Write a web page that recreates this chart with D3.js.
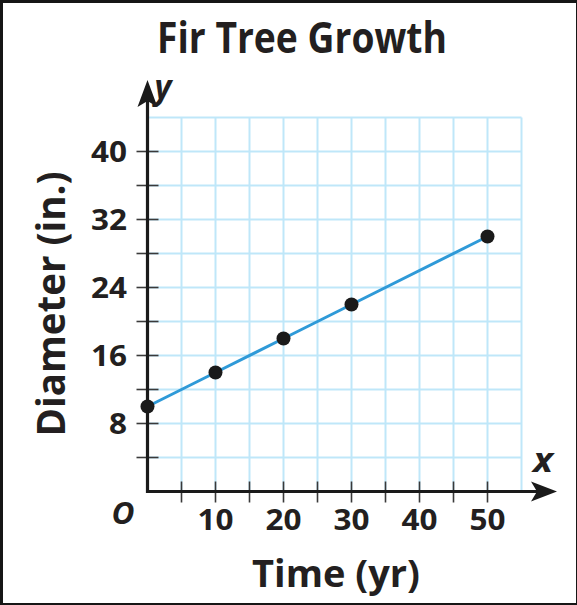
<!DOCTYPE html>
<html><head><meta charset="utf-8">
<script src="https://cdn.jsdelivr.net/npm/d3@7"></script>
<style>
html,body{margin:0;padding:0;background:#161616;}
svg{display:block;}
</style></head>
<body>
<script>
const title = "Fir Tree Growth";
const xLabel = "Time (yr)";
const yLabel = "Diameter (in.)";
const years = [0, 10, 20, 30, 50];
const diameters = [10, 14, 18, 22, 30];
const xTickLabels = [10, 20, 30, 40, 50];
const yTickLabels = [8, 16, 24, 32, 40];
const xMinorTicks = [5, 10, 15, 20, 25, 30, 35, 40, 45, 50];
const yMinorTicks = [4, 8, 12, 16, 20, 24, 28, 32, 36, 40];
const xGrid = [5, 10, 15, 20, 25, 30, 35, 40, 45, 50, 55];
const yGrid = [4, 8, 12, 16, 20, 24, 28, 32, 36, 40, 44];

const W = 577, H = 605;
const svg = d3.select("body").append("svg").attr("width", W).attr("height", H);
svg.append("rect").attr("x", 3).attr("y", 3).attr("width", W - 4).attr("height", H - 5).attr("fill", "#fff");

const x = d3.scaleLinear().domain([0, 55]).range([147.5, 521.5]);
const y = d3.scaleLinear().domain([0, 44]).range([491.5, 117.5]);

const font = "'Open Sans', 'DejaVu Sans', sans-serif";
const ink = "#231f20";

// grid
const grid = svg.append("g").attr("stroke", "#bfe7f9").attr("stroke-width", 2);
grid.selectAll("line.v").data(xGrid).join("line")
  .attr("x1", d => x(d)).attr("x2", d => x(d)).attr("y1", y(0)).attr("y2", y(44));
grid.selectAll("line.h").data(yGrid).join("line")
  .attr("x1", x(0)).attr("x2", x(55)).attr("y1", d => y(d)).attr("y2", d => y(d));

// ticks
const ticks = svg.append("g").attr("stroke", "#3a3a3a").attr("stroke-width", 1.6);
ticks.selectAll("line.yt").data(yMinorTicks).join("line")
  .attr("x1", x(0) - 11).attr("x2", x(0) + 11).attr("y1", d => y(d)).attr("y2", d => y(d));
ticks.selectAll("line.xt").data(xMinorTicks).join("line")
  .attr("x1", d => x(d)).attr("x2", d => x(d)).attr("y1", y(0) - 10).attr("y2", y(0) + 11);

// axes
svg.append("line").attr("x1", x(0)).attr("x2", 540).attr("y1", y(0)).attr("y2", y(0))
  .attr("stroke", "#1a1a1a").attr("stroke-width", 3.2);
svg.append("line").attr("x1", x(0)).attr("x2", x(0)).attr("y1", y(0) + 1.6).attr("y2", 100)
  .attr("stroke", "#1a1a1a").attr("stroke-width", 3.2);
const ax = x(0);
svg.append("path").attr("d", `M${ax},80 L${ax + 10},107 L${ax},101 L${ax - 10},107 Z`).attr("fill", "#1a1a1a");
const ay = y(0);
svg.append("path").attr("d", `M557,${ay} L531,${ay - 10} L537,${ay} L531,${ay + 10} Z`).attr("fill", "#1a1a1a");

// line and points
svg.append("path").datum(years.map((d, i) => [d, diameters[i]]))
  .attr("d", d3.line().x(d => x(d[0])).y(d => y(d[1])))
  .attr("fill", "none").attr("stroke", "#2f9ad8").attr("stroke-width", 3);
svg.selectAll("circle.pt").data(years).join("circle")
  .attr("cx", d => x(d)).attr("cy", (d, i) => y(diameters[i])).attr("r", 7).attr("fill", "#1a1a1a");

// text helper: optional horizontal scale to reach target width
function fitted(px, py, rot, size, target, str, opts = {}) {
  const g = svg.append("g");
  const t = g.append("text").attr("x", 0).attr("y", 0).attr("text-anchor", opts.anchor || "middle")
    .attr("font-family", font).attr("font-weight", 700).attr("font-size", size)
    .attr("font-style", opts.italic ? "italic" : "normal").attr("fill", ink).text(str);
  const len = t.node().getComputedTextLength();
  const s = (target && len > 0) ? target / len : 1;
  g.attr("transform", `translate(${px},${py}) rotate(${rot}) scale(${s},1)`);
  return g;
}

// tick labels
yTickLabels.forEach(d => fitted(127, y(d) + 10, 0, 28, 18 * String(d).length, String(d), { anchor: "end" }));
xTickLabels.forEach(d => fitted(x(d), 530, 0, 28, 36, String(d)));
fitted(123, 524, 0, 31, 23, "O", { italic: true });

// axis letters
fitted(163, 99, 0, 34, 17, "y", { italic: true });
fitted(543, 472, 0, 34, 20, "x", { italic: true });

// titles
fitted(302, 53, 0, 43, 290, title);
fitted(336, 587, 0, 37, 168, xLabel);
fitted(65, 304, -90, 40, 265, yLabel);
</script>
</body></html>
